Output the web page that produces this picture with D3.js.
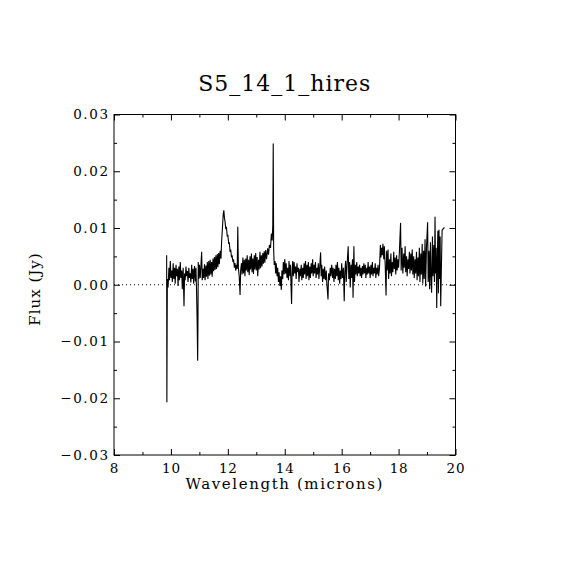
<!DOCTYPE html>
<html>
<head>
<meta charset="utf-8">
<title>S5_14_1_hires</title>
<style>
  body { margin: 0; padding: 0; background: #fff; }
  svg text { font-family: "DejaVu Serif", serif; fill: #000; }
</style>
</head>
<body>
<div id="chart"></div>
<script src="https://d3js.org/d3.v7.min.js"></script>
<script>
// spectrum (wavelength in microns, flux in Jy)
var wavelength = [
  9.850, 9.858, 9.866, 9.875, 9.90, 9.93, 9.95, 9.98, 10.00,
  10.03, 10.05, 10.08, 10.10, 10.13, 10.15, 10.18, 10.20, 10.23, 10.25, 10.28, 10.30, 10.33, 10.35, 10.38, 10.40, 10.43, 10.46, 10.48,
  10.50, 10.53, 10.55, 10.58, 10.60, 10.63, 10.65, 10.68, 10.70, 10.73, 10.75, 10.78, 10.80, 10.83, 10.86, 10.88, 10.90, 10.92, 10.94, 10.95, 10.96, 10.98,
  11.00, 11.03, 11.05, 11.08, 11.10, 11.13, 11.15, 11.18, 11.20, 11.23, 11.25, 11.28, 11.30, 11.33, 11.35, 11.38, 11.40, 11.43, 11.45, 11.48,
  11.50, 11.53, 11.55, 11.58, 11.60, 11.63, 11.65, 11.68, 11.70, 11.73, 11.76, 11.78, 11.81, 11.84, 11.86, 11.88, 11.90, 11.93, 11.95, 11.98,
  12.00, 12.03, 12.05, 12.08, 12.10, 12.13, 12.15, 12.18, 12.20, 12.23, 12.25, 12.28, 12.30, 12.33, 12.35, 12.37, 12.40, 12.43, 12.45, 12.48,
  12.50, 12.53, 12.55, 12.58, 12.60, 12.63, 12.65, 12.68, 12.70, 12.73, 12.75, 12.78, 12.80, 12.83, 12.85, 12.88, 12.90, 12.93, 12.95, 12.98,
  13.00, 13.03, 13.05, 13.08, 13.10, 13.13, 13.15, 13.18, 13.20, 13.23, 13.25, 13.28, 13.30, 13.33, 13.36, 13.40, 13.43, 13.46,
  13.50, 13.53, 13.56, 13.58, 13.595, 13.61, 13.63, 13.66, 13.68, 13.70, 13.73, 13.75, 13.78, 13.80, 13.83, 13.85, 13.88, 13.90, 13.93, 13.95, 13.98,
  14.00, 14.03, 14.05, 14.08, 14.10, 14.13, 14.15, 14.18, 14.20, 14.24, 14.26, 14.28, 14.30, 14.33, 14.35, 14.38, 14.40, 14.43, 14.45, 14.48,
  14.50, 14.53, 14.55, 14.58, 14.60, 14.63, 14.65, 14.68, 14.70, 14.73, 14.75, 14.78, 14.80, 14.83, 14.85, 14.88, 14.90, 14.93, 14.95, 14.98,
  15.00, 15.03, 15.05, 15.08, 15.10, 15.13, 15.15, 15.18, 15.20, 15.23, 15.26, 15.28, 15.30, 15.33, 15.35, 15.38, 15.40, 15.43, 15.46, 15.48,
  15.52, 15.54, 15.57, 15.60, 15.62, 15.65, 15.68, 15.70, 15.73, 15.75, 15.78, 15.80, 15.83, 15.85, 15.88, 15.90, 15.93, 15.95, 15.98,
  16.00, 16.03, 16.06, 16.09, 16.11, 16.14, 16.16, 16.19, 16.23, 16.25, 16.28, 16.30, 16.33, 16.35, 16.38, 16.40, 16.43, 16.45, 16.48,
  16.50, 16.53, 16.55, 16.58, 16.60, 16.63, 16.65, 16.68, 16.70, 16.73, 16.75, 16.78, 16.80, 16.83, 16.85, 16.88, 16.90, 16.93, 16.95, 16.98,
  17.00, 17.03, 17.05, 17.08, 17.10, 17.13, 17.15, 17.18, 17.20, 17.23, 17.25, 17.28, 17.30, 17.33, 17.36, 17.38, 17.40, 17.43, 17.45, 17.48,
  17.50, 17.53, 17.56, 17.58, 17.60, 17.63, 17.65, 17.68, 17.70, 17.73, 17.75, 17.78, 17.80, 17.83, 17.85, 17.88, 17.90, 17.93, 17.95, 17.98,
  18.00, 18.03, 18.07, 18.09, 18.12, 18.15, 18.18, 18.20, 18.23, 18.25, 18.28, 18.30, 18.33, 18.35, 18.38, 18.40, 18.43, 18.45, 18.48,
  18.50, 18.53, 18.55, 18.58, 18.60, 18.63, 18.65, 18.68, 18.70, 18.73, 18.75, 18.78, 18.80, 18.83, 18.85, 18.88, 18.90, 18.93, 18.95, 18.98,
  19.02, 19.04, 19.07, 19.09, 19.12, 19.14, 19.16, 19.19, 19.21, 19.24, 19.26, 19.28, 19.30, 19.32, 19.34, 19.36, 19.38, 19.40, 19.42, 19.44, 19.46, 19.48,
  19.50, 19.53, 19.56, 19.61
];

var flux = [
  0.0052, -0.0207, -0.0088, 0.0010, -0.0005, 0.0030, 0.0008, 0.0042, 0.0012,
  0.0025, 0.0005, 0.0038, 0.0010, 0.0030, 0.0002, 0.0035, 0.0015, 0.0028, -0.0002, 0.0032, 0.0008, 0.0040, 0.0012, 0.0025, -0.0008, 0.0030, -0.0038, 0.0020,
  0.0008, 0.0032, 0.0015, 0.0024, 0.0005, 0.0030, 0.0012, 0.0020, 0.0004, 0.0035, 0.0010, 0.0028, 0.0002, 0.0033, 0.0006, 0.0030, -0.0010, -0.0060, -0.0134, -0.0074, 0.0040, 0.0010,
  0.0035, 0.0012, 0.0030, 0.0058, 0.0008, 0.0028, 0.0012, 0.0036, 0.0008, 0.0034, 0.0014, 0.0040, 0.0010, 0.0042, 0.0016, 0.0044, 0.0018, 0.0040, 0.0014, 0.0046,
  0.0024, 0.0049, 0.0026, 0.0052, 0.0028, 0.0054, 0.0031, 0.0056, 0.0036, 0.0060, 0.0046, 0.0075, 0.0100, 0.0125, 0.0131, 0.0118, 0.0112, 0.0098, 0.0102, 0.0085,
  0.0088, 0.0072, 0.0075, 0.0058, 0.0062, 0.0048, 0.0052, 0.0040, 0.0045, 0.0030, 0.0038, 0.0025, 0.0035, 0.0028, 0.0102, 0.0030, 0.0015, -0.0018, 0.0025, 0.0038,
  0.0018, 0.0048, 0.0020, 0.0044, 0.0015, 0.0046, 0.0025, 0.0052, 0.0022, 0.0044, 0.0017, 0.0050, 0.0027, 0.0055, 0.0022, 0.0046, 0.0019, 0.0052, 0.0027, 0.0056,
  0.0025, 0.0049, 0.0015, 0.0044, 0.0027, 0.0058, 0.0029, 0.0052, 0.0032, 0.0056, 0.0037, 0.0059, 0.0039, 0.0061, 0.0045, 0.0064, 0.0053, 0.0070,
  0.0065, 0.0090, 0.0078, 0.0106, 0.0249, 0.0062, 0.0035, 0.0042, 0.0020, 0.0038, 0.0015, 0.0030, 0.0005, 0.0022, -0.0002, 0.0015, -0.0009, 0.0025, 0.0010, 0.0040, 0.0018,
  0.0045, 0.0020, 0.0038, 0.0012, 0.0030, 0.0008, 0.0042, 0.0015, 0.0035, -0.0034, 0.0028, 0.0042, 0.0015, 0.0040, 0.0020, 0.0032, 0.0010, 0.0038, 0.0022, 0.0030,
  0.0005, 0.0028, 0.0015, 0.0035, 0.0008, 0.0030, 0.0012, 0.0038, 0.0018, 0.0042, 0.0010, 0.0035, 0.0015, 0.0040, 0.0008, 0.0032, 0.0012, 0.0038, 0.0020, 0.0045,
  0.0015, 0.0035, 0.0020, 0.0040, 0.0012, 0.0030, 0.0018, 0.0038, 0.0010, 0.0032, 0.0057, 0.0015, 0.0035, 0.0005, 0.0028, 0.0010, 0.0032, 0.0008, 0.0025, 0.0002,
  -0.0026, 0.0020, 0.0008, 0.0030, 0.0015, 0.0035, 0.0012, 0.0030, 0.0005, 0.0028, 0.0010, 0.0035, 0.0015, 0.0040, 0.0008, 0.0030, 0.0002, 0.0025, 0.0010,
  0.0038, 0.0012, 0.0030, -0.0029, 0.0022, 0.0042, 0.0005, 0.0035, 0.0068, 0.0010, 0.0040, -0.0005, 0.0035, 0.0012, 0.0045, -0.0023, 0.0068, 0.0005, 0.0035,
  0.0018, 0.0040, 0.0015, 0.0032, 0.0020, 0.0035, 0.0015, 0.0030, 0.0012, 0.0033, 0.0018, 0.0038, 0.0020, 0.0035, 0.0012, 0.0030, 0.0018, 0.0040, 0.0020, 0.0032,
  0.0012, 0.0035, 0.0018, 0.0040, 0.0015, 0.0030, 0.0020, 0.0038, 0.0012, 0.0030, 0.0018, 0.0035, 0.0015, 0.0030, 0.0070, 0.0048, 0.0065, 0.0052, 0.0072, 0.0045,
  0.0068, 0.0035, -0.0019, 0.0060, 0.0025, 0.0062, 0.0010, 0.0045, 0.0020, 0.0055, 0.0015, 0.0040, 0.0022, 0.0058, 0.0028, 0.0048, 0.0018, 0.0052, 0.0025, 0.0045,
  0.0030, 0.0060, 0.0109, 0.0025, 0.0065, 0.0020, 0.0055, 0.0030, 0.0068, 0.0022, 0.0050, 0.0015, 0.0045, 0.0028, 0.0058, 0.0020, 0.0055, 0.0025, 0.0062,
  0.0018, 0.0050, 0.0012, 0.0045, 0.0020, 0.0058, 0.0008, 0.0048, 0.0015, 0.0065, 0.0005, 0.0055, 0.0018, 0.0072, 0.0002, 0.0060, 0.0010, 0.0080, -0.0003, 0.0065,
  0.0110, 0.0005, 0.0060, -0.0008, 0.0075, 0.0010, -0.0014, 0.0085, 0.0015, 0.0070, 0.0005, 0.0120, 0.0020, 0.0065, -0.0041, 0.0040, 0.0095, -0.0015, 0.0097, 0.0010, 0.0085, -0.0038,
  0.0020, 0.0096, 0.0098, 0.0101
];

var xTicks = [8, 10, 12, 14, 16, 18, 20];
var xMinor = [9, 11, 13, 15, 17, 19];
var yTicks = [-0.03, -0.02, -0.01, 0.00, 0.01, 0.02, 0.03];
var yMinor = [-0.025, -0.015, -0.005, 0.005, 0.015, 0.025];

var width = 570, height = 570;
var plotLeft = 114, plotRight = 455.5, plotTop = 114.5, plotBottom = 455;

var svg = d3.select("#chart").append("svg")
    .attr("width", width)
    .attr("height", height);

svg.append("rect").attr("width", width).attr("height", height).attr("fill", "#fff");

var x = d3.scaleLinear().domain([8, 20]).range([plotLeft, plotRight]);
var y = d3.scaleLinear().domain([-0.03, 0.03]).range([plotBottom, plotTop]);

var fmtY = d3.format(".2f");

// bottom axis with labels, ticks pointing in
svg.append("g")
    .attr("class", "xlab")
    .attr("transform", "translate(0," + plotBottom + ")")
    .call(d3.axisBottom(x).tickValues(xTicks).tickSize(-6).tickPadding(8).tickFormat(d3.format("d")));
svg.append("g")
    .attr("transform", "translate(0," + plotBottom + ")")
    .call(d3.axisBottom(x).tickValues(xMinor).tickSize(-3).tickFormat(""));
svg.append("g")
    .attr("transform", "translate(0," + plotTop + ")")
    .call(d3.axisTop(x).tickValues(xTicks).tickSize(-6).tickFormat(""));
svg.append("g")
    .attr("transform", "translate(0," + plotTop + ")")
    .call(d3.axisTop(x).tickValues(xMinor).tickSize(-3).tickFormat(""));

svg.append("g")
    .attr("class", "ylab")
    .attr("transform", "translate(" + plotLeft + ",0)")
    .call(d3.axisLeft(y).tickValues(yTicks).tickSize(-6).tickPadding(6).tickFormat(fmtY));
svg.append("g")
    .attr("transform", "translate(" + plotLeft + ",0)")
    .call(d3.axisLeft(y).tickValues(yMinor).tickSize(-3).tickFormat(""));
svg.append("g")
    .attr("transform", "translate(" + plotRight + ",0)")
    .call(d3.axisRight(y).tickValues(yTicks).tickSize(-6).tickFormat(""));
svg.append("g")
    .attr("transform", "translate(" + plotRight + ",0)")
    .call(d3.axisRight(y).tickValues(yMinor).tickSize(-3).tickFormat(""));

svg.selectAll(".domain").remove();
svg.selectAll(".tick line").attr("stroke", "#000").attr("stroke-width", 1);
svg.selectAll(".tick text")
    .attr("font-family", "DejaVu Serif")
    .attr("font-size", 13.5)
    .attr("fill", "#000");
svg.selectAll(".ylab .tick text").style("letter-spacing", "1.6px").attr("dx", "1.6");
svg.selectAll(".xlab .tick text").style("letter-spacing", "0.8px");

// frame
svg.append("rect")
    .attr("x", plotLeft).attr("y", plotTop)
    .attr("width", plotRight - plotLeft).attr("height", plotBottom - plotTop)
    .attr("fill", "none").attr("stroke", "#000").attr("stroke-width", 1);

// dotted zero line
svg.append("line")
    .attr("x1", x(8)).attr("x2", x(20))
    .attr("y1", y(0)).attr("y2", y(0))
    .attr("stroke", "#000").attr("stroke-width", 1)
    .attr("stroke-dasharray", "1,3");

// spectrum
var pts = wavelength.map(function(w, i) { return [w, flux[i]]; });
var line = d3.line()
    .x(function(d) { return x(d[0]); })
    .y(function(d) { return y(d[1]); });

svg.append("path")
    .datum(pts)
    .attr("d", line)
    .attr("fill", "none")
    .attr("stroke", "#000")
    .attr("stroke-width", 1.1)
    .attr("stroke-linejoin", "miter");

// labels
svg.append("text")
    .attr("x", (plotLeft + plotRight) / 2).attr("y", 91)
    .attr("text-anchor", "middle")
    .attr("font-size", 22)
    .style("letter-spacing", "1px")
    .text("S5_14_1_hires");

svg.append("text")
    .attr("x", (plotLeft + plotRight) / 2).attr("y", 489)
    .attr("text-anchor", "middle")
    .attr("font-size", 15)
    .style("letter-spacing", "1.6px")
    .text("Wavelength (microns)");

svg.append("text")
    .attr("transform", "translate(40," + 289 + ") rotate(-90)")
    .attr("text-anchor", "middle")
    .attr("font-size", 15)
    .style("letter-spacing", "1px")
    .text("Flux (Jy)");
</script>
</body>
</html>
